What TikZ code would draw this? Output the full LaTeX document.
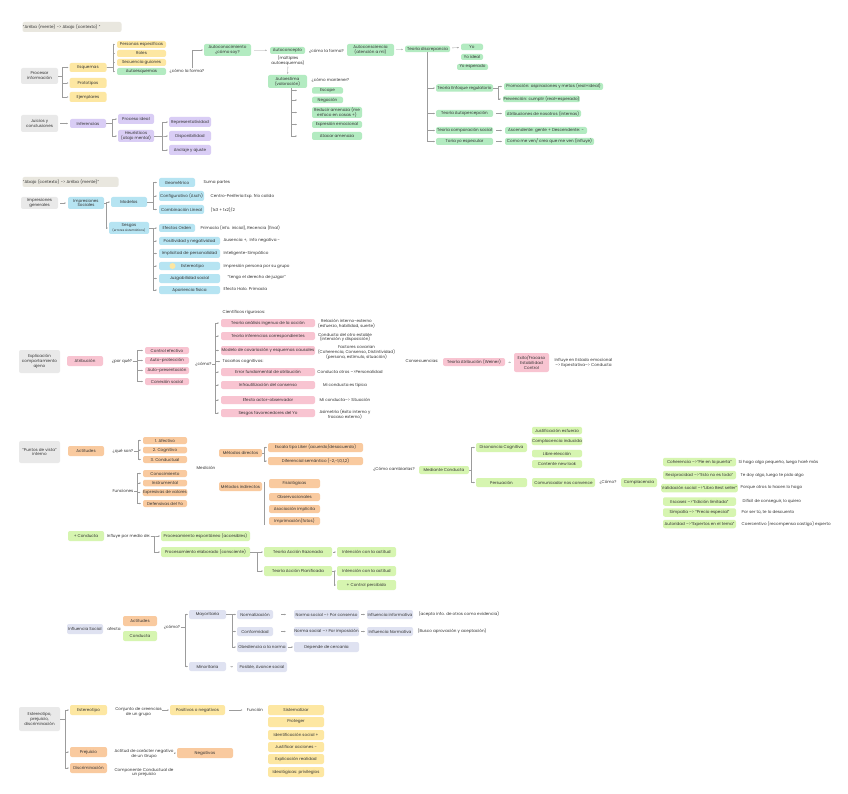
\documentclass[tikz,border=0pt]{standalone}
\usepackage{fontspec}
\setmainfont{Poppins}
\usetikzlibrary{arrows.meta, positioning}

\definecolor{txt}{HTML}{333333}
\definecolor{linec}{HTML}{9C9C9C}
\definecolor{grayc}{HTML}{E9E9E9}
\definecolor{hdrc}{HTML}{E9E7DF}
\definecolor{yelc}{HTML}{FDE7A2}
\definecolor{grnc}{HTML}{B3EBC1}
\definecolor{purc}{HTML}{D9CDF5}
\definecolor{bluc}{HTML}{B6E4F2}
\definecolor{pnkc}{HTML}{F8C4D1}
\definecolor{orac}{HTML}{F9CA9F}
\definecolor{limc}{HTML}{D6F5B0}
\definecolor{lavc}{HTML}{DFE2F1}
\newcommand{\fs}{\fontsize{4.1}{4.9}\selectfont}

\tikzset{
  nd/.style={rounded corners=2pt, inner sep=0.5pt, align=center, text=txt, font=\fs},
  wh/.style 2 args={minimum width=#1, minimum height=#2},
  gbox/.style={nd, fill=grayc},
  hdr/.style={nd, fill=hdrc, align=left},
  ybox/.style={nd, fill=yelc},
  gnbox/.style={nd, fill=grnc},
  pbox/.style={nd, fill=purc},
  bbox/.style={nd, fill=bluc},
  pkbox/.style={nd, fill=pnkc},
  obox/.style={nd, fill=orac},
  lbox/.style={nd, fill=limc},
  vbox/.style={nd, fill=lavc},
  lbl/.style={inner sep=0.5pt, align=center, text=txt, font=\fs},
  conn/.style={draw=linec, line width=0.35pt, -{Stealth[length=1.4pt, width=1.4pt]}, shorten >=1pt},
  rail/.style={draw=linec, line width=0.35pt},
  sarr/.style={conn, shorten <=#1, shorten >=#1},
  sarr/.default=3
}

\begin{document}
\begin{tikzpicture}[x=1pt, y=-1pt]
\fill[white] (0,0) rectangle (848,794);
\useasboundingbox (0,0) rectangle (848,794);

% Arriba -> Abajo
\node[hdr, text width=98, minimum height=10] (hdra) at (72,27) {“Arriba (mente) -> Abajo (contexto) ”};
\node[gbox, wh={37}{16}] (proc) at (39.5,76) {Procesar\\información};
\node[ybox, wh={37}{9}] (esq) at (88,67.5) {Esquemas};
\node[ybox, wh={37}{10}] (proto) at (88,83) {Prototipos};
\node[ybox, wh={37}{10}] (ejem) at (88,97) {Ejemplares};
\node[ybox, wh={49}{7}] (pers) at (141.5,44.5) {Personas específicas};
\node[ybox, wh={49}{7}] (roles) at (141.5,53.5) {Roles};
\node[ybox, wh={49}{7}] (secu) at (141.5,62.5) {Secuencia guiones};
\node[gnbox, wh={49}{7}] (autoesq) at (141.5,71.5) {Autoesquemas};
\node[lbl] (forma1) at (187,71) {¿cómo la forma?};
\node[gnbox, wh={47}{12}] (autocon) at (227.5,50) {Autoconocimiento\\¿cómo soy?};
\node[gnbox, wh={35}{7}] (autocpt) at (287.5,50.5) {Autoconcepto};
\node[lbl] (multi) at (288,61) {(múltiples\\autoesquemas)};
\node[gnbox, wh={39}{13}] (autoest) at (287.5,81.5) {Autoestima\\(valoración)};
\node[lbl] (forma2) at (326.5,51.5) {¿cómo la forma?};
\node[gnbox, wh={47}{12}] (autocsc) at (370.5,50) {Autoconsciencia\\(atención a mí)};
\node[gnbox, wh={45}{6.5}] (tdisc) at (427.5,49) {Teoría discrepancia};
\node[gnbox, wh={22}{6.5}] (yo) at (472,47) {Yo};
\node[gnbox, wh={22}{6}] (yoid) at (472,57) {Yo ideal};
\node[gnbox, wh={31}{6}] (yoesp) at (472.5,67) {Yo esperado};
\node[lbl, anchor=west] (mant) at (311,80) {¿cómo mantener?};
\node[gnbox, wh={31}{6.5}] (escape) at (327.5,90.5) {Escape};
\node[gnbox, wh={31}{6.5}] (negac) at (327.5,100) {Negación};
\node[gnbox, wh={50}{11}] (reduc) at (337,112.5) {Reducir amenaza (me\\enfoco en cosas +)};
\node[gnbox, wh={50}{7}] (expr) at (337,124.5) {Expresión emocional};
\node[gnbox, wh={50}{8}] (atac) at (337,136) {Atacar amenaza};
\node[gnbox, wh={57}{7.5}] (tenf) at (464.5,88) {Teoría Enfoque regulatorio};
\node[gnbox, wh={57}{7}] (tauto) at (464.5,113.5) {Teoría Autopercepción};
\node[gnbox, wh={57}{7}] (tcomp) at (464.5,130.5) {Teoría comparación social};
\node[gnbox, wh={57}{7}] (tyo) at (464.5,141.5) {Toria yo especular};
\node[gnbox, wh={99}{7}] (prom) at (553.5,86.5) {Promoción: aspiraciones y metas (real=ideal)};
\node[gnbox, wh={75}{6.5}] (prev) at (541.5,99) {Prevención: cumplir (real=esperado)};
\node[gnbox, wh={76}{7}] (atrib) at (543,113.5) {Atribuciones de nosotros (internas)};
\node[gnbox, wh={82}{7}] (asc) at (546,130.5) {Ascendente: gente + Descendente: -};
\node[gnbox, wh={89}{7}] (comove) at (549.5,141.5) {Como me ven/ creo que me ven (influye)};
\node[gbox, wh={37}{17}] (juic) at (39.5,123.5) {Juicios y\\conclusiones};
\node[pbox, wh={36}{9}] (infer) at (88,123.5) {Inferencias};
\node[pbox, wh={36}{10}] (pideal) at (136,119) {Proceso ideal};
\node[pbox, wh={36}{12}] (heur) at (136,136) {Heurísticos\\(atajo mental)};
\node[pbox, wh={42}{10}] (repr) at (190,122) {Representatividad};
\node[pbox, wh={42}{10}] (disp) at (190,136) {Disponibilidad};
\node[pbox, wh={42}{10}] (ancl) at (190,150) {Anclaje y ajuste};

\foreach \t in {esq,proto,ejem} \draw[conn] (proc.east) -- ++(4,0) |- (\t.west);
\foreach \t in {pers,roles,secu,autoesq} \draw[conn, shorten >=2pt] (esq.east) -- ++(6,0) |- (\t.west);
\draw[conn] ([xshift=5]forma1.north) |- (autocon.west);
\draw[sarr] (autocon) -- (autocpt);
\draw[conn] (multi) -- (autoest);
\draw[sarr=2] (autocsc) -- (tdisc);
\draw[sarr=2] (tdisc) -- (yo);
\foreach \t in {escape,negac,reduc,expr,atac} \draw[conn, shorten >=15pt] ([xshift=3.5]autoest.south) |- (\t.west);
\foreach \t in {tenf,tauto,tcomp,tyo} \draw[conn] (tdisc.south) |- (\t.west);
\foreach \t in {prom,prev} \draw[conn, shorten >=2pt] (tenf.east) -- ++(5,0) |- (\t.west);
\draw[sarr] (tauto) -- (atrib);
\draw[sarr] (tcomp) -- (asc);
\draw[sarr] (tyo) -- (comove);
\draw[sarr=2] (juic) -- (infer);
\foreach \t in {pideal,heur} \draw[conn] (infer.east) -- ++(6,0) |- (\t.west);
\foreach \t in {repr,disp,ancl} \draw[conn] (heur.east) -- ++(8,0) |- (\t.west);

% Abajo -> Arriba
\node[hdr, text width=95, minimum height=10] (hdrb) at (70.5,182) {“Abajo (contexto) -> Arriba (mente)”};
\node[gbox, wh={37}{12}] (impg) at (39.5,203) {Impresiones\\generales};
\node[bbox, wh={36}{12}] (imps) at (86,203) {Impresiones\\Sociales};
\node[bbox, wh={36}{10}] (model) at (129,202) {Modelos};
\node[bbox, wh={40}{12}] (sesg) at (129,228) {Sesgos\\{\fontsize{3}{3.6}\selectfont (errores sistemáticos)}};
\node[bbox, wh={36}{9}] (geo) at (177,182.5) {Geométrico};
\node[bbox, wh={45}{10}] (config) at (181.5,196) {Configurativo (Asch)};
\node[bbox, wh={45}{9}] (combi) at (181.5,209.5) {Combinación Lineal};
\node[lbl, anchor=west] (suma) at (203,183) {Suma partes};
\node[lbl, anchor=west] (centro) at (210,196) {Centro-Periferia Exp. frío calido};
\node[lbl, anchor=west] (formula) at (210,210) {(1x3 + 1x2)/2};
\node[bbox, wh={36}{8}] (eford) at (177,228) {Efectos Orden};
\node[bbox, wh={61}{8}] (posit) at (189.5,241) {Positividad y negatividad};
\node[bbox, wh={61}{9}] (impl) at (189.5,253.5) {Implicitad de personalidad};
\node[bbox, wh={61}{8}] (ester) at (189.5,266) {\hspace*{6pt}Estereotipo};
\node[bbox, wh={61}{9}] (juzg) at (189.5,278.5) {Juzgabilidad social};
\node[bbox, wh={61}{8}] (apar) at (189.5,290) {Apariencia física};
\fill[yelc] (172.5,266) circle (3);
\node[lbl, anchor=west] (prima) at (200,227.5) {Primacía (info. inicial), Recencia (final)};
\node[lbl, anchor=west] (ausen) at (223,240.5) {Ausencia +,\ \ Info negativa -};
\node[lbl, anchor=west] (intel) at (223,253.5) {Inteligente-Simpático};
\node[lbl, anchor=west] (impre) at (223,266) {Impresión persona por su grupo};
\node[lbl, anchor=west] (tengo) at (227,277.5) {“tengo el derecho de juzgar”};
\node[lbl, anchor=west] (halo) at (223,288.5) {Efecto Halo. Primacía};

\draw[sarr=2] (impg) -- (imps);
\foreach \t in {model,sesg} \draw[conn] (imps.east) -- ++(2,0) |- (\t.west);
\foreach \t in {geo,config,combi} \draw[conn, shorten >=2pt] (model.east) -- ++(6,0) |- (\t.west);
\foreach \t in {eford,posit,impl,ester,juzg,apar} \draw[conn, shorten >=2pt] (sesg.east) -- ++(4,0) |- (\t.west);

% Atribucion
\node[gbox, wh={41}{23}] (expl) at (39.5,361.5) {Explicación\\comportamiento\\ajeno};
\node[pkbox, wh={36}{10}] (atri) at (85,361) {Atribución};
\node[lbl] (porque) at (122,361) {¿por qué?};
\node[pkbox, wh={44}{7}] (cafe) at (167,350.5) {Control efectivo};
\node[pkbox, wh={44}{7}] (aprot) at (167,360.5) {Auto-protección};
\node[pkbox, wh={44}{7}] (apres) at (167,370.5) {Auto-presentación};
\node[pkbox, wh={44}{7}] (conex) at (167,381.5) {Conexión social};
\node[lbl] (como3) at (203.5,364) {¿cómo?};
\node[lbl, anchor=west] (cient) at (222,312.5) {Científicos rigurosos:};
\node[pkbox, wh={94}{8}] (tana) at (268,323) {Teoría análisis ingenuo de la acción};
\node[pkbox, wh={94}{8}] (tinf) at (268,336) {Teoría inferencias correspondientes};
\node[pkbox, wh={94}{9}] (mcov) at (268,350.5) {Modelo de covariación y esquemas causales};
\node[lbl, anchor=west] (tacan) at (222,361.5) {Tacaños cognitivos:};
\node[pkbox, wh={94}{8}] (efund) at (268,372) {Error fundamental de atribución};
\node[pkbox, wh={94}{8}] (infra) at (268,385) {Infrautilización del consenso};
\node[pkbox, wh={94}{8}] (eact) at (268,400) {Efecto actor-observador};
\node[pkbox, wh={94}{8}] (sfav) at (268,413) {Sesgos favorecedores del Yo};
\node[lbl] (relac) at (346.5,324) {Relación interno-externo\\(esfuerzo, habilidad, suerte)};
\node[lbl] (cestab) at (345,337.5) {Conducta del otro estable\\(intención y disposición)};
\node[lbl] (facto) at (356.5,352.5) {Factores covarian\\(Coherencia, Consenso, Distintividad)\\(persona, estímulo, situación)};
\node[lbl] (cotros) at (350,371.5) {Conducta otros -->Personalidad};
\node[lbl] (tipica) at (345,385) {Mi conducta es típica};
\node[lbl] (situa) at (345,399.5) {Mi conducta--> Situación};
\node[lbl] (asim) at (345,414.5) {Asimetría (éxito interno y\\fracaso externo)};
\node[lbl] (consec) at (422,361.3) {Consecuencias:};
\node[pkbox, wh={62}{8}] (weiner) at (474,362) {Teoría Atribución (Weiner)};
\node[pkbox, wh={35}{19}] (exito) at (531.5,362.5) {Exito/Fracaso\\Estabilidad\\Control};
\node[lbl] (estemo) at (583.5,363) {Influye en Estado emocional\\--> Expectativa--> Conducta};

\foreach \t in {cafe,aprot,apres,conex} \draw[conn, shorten >=2pt] (porque.east) -- ++(4,0) |- (\t.west);
\foreach \t in {tana,tinf,mcov,tacan,efund,infra,eact,sfav} \draw[conn, shorten >=2pt] (como3.east) -- ++(3,0) |- (\t.west);
\draw[sarr] (weiner) -- (exito);

% Actitudes
\node[gbox, wh={41}{22}] (ptos) at (39.5,452) {“Puntos de vista”\\interno};
\node[obox, wh={36}{10}] (actit) at (86,451) {Actitudes};
\node[lbl] (queson) at (123,451) {¿qué son?};
\node[obox, wh={44}{7}] (afec) at (165,440.5) {1. Afectivo};
\node[obox, wh={44}{6.5}] (cogn) at (165,450) {2. Cognitivo};
\node[obox, wh={44}{7}] (condu) at (165,459.5) {3. Conductual};
\node[lbl] (funci) at (123,490.7) {Funciones};
\node[obox, wh={44}{7}] (conoc) at (165,473.5) {Conocimiento};
\node[obox, wh={44}{6.5}] (instr) at (165,483) {Instrumental};
\node[obox, wh={44}{7}] (expv) at (165,492.5) {Expresivas de valores};
\node[obox, wh={44}{7}] (defy) at (165,503.5) {Defensivas del Yo};
\node[lbl] (medic) at (206,467.7) {Medición};
\node[obox, wh={43}{8}] (mdir) at (240.5,453) {Métodos directos};
\node[obox, wh={43}{9}] (mind) at (240.5,486.5) {Métodos indirectos};
\node[obox, wh={95}{9}] (likert) at (315.5,447.5) {Escala tipo Liker (acuerdo/desacuerdo)};
\node[obox, wh={95}{8}] (difer) at (315.5,461) {Diferencial semántico (-2,-1,0,1,2)};
\node[obox, wh={51}{9}] (fisio) at (294.5,483.5) {Fisiológicas};
\node[obox, wh={51}{8}] (obser) at (294.5,497) {Observacionales};
\node[obox, wh={51}{8}] (asoc) at (294.5,509) {Asociación implícita};
\node[obox, wh={51}{8}] (impr) at (294.5,521) {Imprimación(fotos)};
\node[lbl] (camb) at (394,469.3) {¿Cómo cambiarlas?};
\node[lbox, wh={50}{8}] (medc) at (444,470) {Mediante Conducta};
\node[lbox, wh={51}{9}] (dison) at (501.5,447.5) {Disonancia Cognitiva};
\node[lbox, wh={51}{9}] (persu) at (501.5,482.5) {Persuación};
\node[lbox, wh={50}{7.5}] (justi) at (557,430.5) {Justificación esfuerzo};
\node[lbox, wh={50}{8}] (compi) at (557,441) {Complacencia inducida};
\node[lbox, wh={50}{7.5}] (libre) at (557,453.5) {Libre elección};
\node[lbox, wh={50}{8}] (conte) at (557,464) {Contente new look};
\node[lbox, wh={63}{9}] (comun) at (563.5,482.5) {Comunicador nos convence};
\node[lbl] (como4) at (608,482.5) {¿Cómo?};
\node[lbox, wh={36}{9}] (compl) at (639,482.5) {Complacencia};
\node[lbox, wh={73}{8.5}] (coher) at (699.5,462) {Coherencia -->“Pie en la puerta”};
\node[lbox, wh={73}{8.5}] (recip) at (699.5,475) {Reciprocidad -->“Esto no es todo”};
\node[lbox, wh={73}{8.5}] (valid) at (699.5,488) {Validación social -->“Libro Best seller”};
\node[lbox, wh={73}{8.5}] (escas) at (699.5,501.5) {Escasez -->“Edición limitada”};
\node[lbox, wh={73}{8.5}] (simpa) at (699.5,512.5) {Simpatía --> “Precio especial”};
\node[lbox, wh={73}{8.5}] (autor) at (699.5,524) {Autoridad -->“Expertos en el tema”};
\node[lbl, anchor=west] (peque) at (738,462) {Si hago algo pequeño, luego haré más};
\node[lbl, anchor=west] (doy) at (740,475) {Te doy algo, luego te pido algo};
\node[lbl, anchor=west] (otros) at (740,488) {Porque otros lo hacen lo hago};
\node[lbl, anchor=west] (dific) at (742,501) {Difícil de conseguir, lo quiero};
\node[lbl, anchor=west] (porser) at (741,512.5) {Por ser tú, te lo descuento};
\node[lbl, anchor=west] (coerc) at (741,524) {Coercentivo (recompensa castigo) experto};

\foreach \t in {afec,cogn,condu} \draw[conn, shorten >=2pt] (queson.east) -- ++(4,0) |- (\t.west);
\foreach \t in {conoc,instr,expv,defy} \draw[conn, shorten >=2pt] (funci.east) -- ++(3,0) |- (\t.west);
\foreach \t in {likert,difer} \draw[conn] (mdir.east) -- ++(2,0) |- (\t.west);
\draw[rail] ([xshift=2]mind.north east) -- ([xshift=2]mind.north east |- impr.south);
\foreach \t in {dison,persu} \draw[conn] (medc.east) -- ++(2,0) |- (\t.west);

\node[lbox, wh={36}{10}] (pcond) at (86,536) {+ Conducta};
\node[lbl] (inflm) at (128.5,536) {Influye por medio de:};
\node[lbox, wh={89}{10}] (pesp) at (205.5,536) {Procesamiento espontáneo (accesibles)};
\node[lbox, wh={89}{10}] (pela) at (205.5,552) {Procesamiento elaborado (consciente)};
\node[lbox, wh={68}{10}] (tar) at (298,552) {Teoría Acción Razonada};
\node[lbox, wh={68}{10}] (tap) at (298,571) {Teoría Acción Planificada};
\node[lbox, wh={59}{10}] (int1) at (366.5,552) {Intención con la actitud};
\node[lbox, wh={59}{10}] (int2) at (366.5,571) {Intención con la actitud};
\node[lbox, wh={59}{10}] (ctrl) at (366.5,585) {+ Control percibido};

\foreach \t in {pesp,pela} \draw[conn] (inflm.east) -- ++(3,0) |- (\t.west);
\draw[conn] (pela.east) -- (tar.west);
\draw[conn] (pela.east) -- ++(7,0) |- (tap.west);
\draw[sarr=1] (tar) -- (int1);
\foreach \t in {int2,ctrl} \draw[conn] (tap.east) -- ++(1.5,0) |- (\t.west);

% Influencia social
\node[vbox, wh={36}{10}] (infs) at (85,629) {Influencia Social};
\node[lbl] (afecta) at (114,629) {afecta};
\node[obox, wh={34}{10}] (act2) at (140,621) {Actitudes};
\node[lbox, wh={34}{10}] (cond2) at (140,636) {Conducta};
\node[lbl] (como5) at (172,627) {¿cómo?};
\node[vbox, wh={37}{9}] (mayor) at (207.5,614.5) {Mayoritaria};
\node[vbox, wh={37}{9}] (minor) at (207.5,666.5) {Minoritaria};
\node[vbox, wh={36}{9}] (normz) at (255,614.5) {Normalización};
\node[vbox, wh={36}{9}] (confo) at (255,631.5) {Conformidad};
\node[vbox, wh={50}{10}] (obed) at (262,647) {Obediencia a la norma};
\node[vbox, wh={65}{9}] (nscon) at (326.5,614.5) {Norma social --> Por consenso};
\node[vbox, wh={65}{9}] (nsimp) at (326.5,631.5) {Norma social --> Por imposición};
\node[vbox, wh={65}{10}] (depc) at (326.5,647) {Depende de cercanía};
\node[vbox, wh={46}{9}] (infinf) at (390,614.5) {Influencia informativa};
\node[vbox, wh={46}{9}] (infnor) at (390,631.5) {Influencia Normativa};
\node[lbl, anchor=west] (acepto) at (418,614.3) {(acepto info. de otros como evidencia)};
\node[lbl, anchor=west] (busco) at (417,630.7) {(Busco aprovación y aceptación)};
\node[vbox, wh={50}{10}] (posav) at (262,667) {Posible, Avance social};

\foreach \t in {mayor,minor} \draw[conn] (como5.east) -- ++(4,0) |- (\t.west);
\foreach \t in {normz,confo,obed} \draw[conn] (mayor.east) -- ++(6,0) |- (\t.west);
\draw[sarr=8] (normz) -- (nscon);
\draw[sarr=8] (confo) -- (nsimp);
\draw[sarr=1] (obed) -- (depc);
\draw[sarr=2] (nscon) -- (infinf);
\draw[sarr=2] (nsimp) -- (infnor);
\draw[sarr=4] (minor) -- (posav);

% Estereotipo
\node[gbox, wh={41}{24}] (estp) at (39.5,719) {Estereotipo,\\prejuicio,\\discriminación};
\node[ybox, wh={37}{10}] (est) at (88.5,710) {Estereotipo};
\node[obox, wh={37}{10}] (prej) at (88.5,752) {Prejuicio};
\node[obox, wh={37}{10}] (discr) at (88.5,768) {Discriminación};
\node[lbl] (conj) at (138.5,712) {Conjunto de creencias\\de un grupo};
\node[ybox, wh={55}{10}] (posneg) at (197.5,710) {Positivos o negativos};
\node[lbl] (funcion) at (255,710) {Función};
\node[ybox, wh={56}{10}] (sist) at (296,710) {Sistematizar};
\node[ybox, wh={56}{10}] (prote) at (296,722) {Proteger};
\node[ybox, wh={56}{10}] (idsoc) at (296,735) {Identificación social +};
\node[ybox, wh={56}{10}] (justa) at (296,747) {Justificar acciones -};
\node[ybox, wh={56}{10}] (explr) at (296,759) {Explicación realidad};
\node[ybox, wh={56}{10}] (ideol) at (296,772) {Ideológicas: privilegios};
\node[lbl] (actn) at (144,754) {Actitud de carácter negativo\\de un Grupo};
\node[obox, wh={56}{10}] (negat) at (205,753) {Negativos};
\node[lbl] (compc) at (144,772.5) {Componente Conductual de\\un prejuicio};

\foreach \t in {est,prej,discr} \draw[conn] (estp.east) -- ++(5,0) |- (\t.west);
\draw[conn] (conj.east |- posneg.west) -- (posneg.west);
\draw[sarr=4] (posneg) -- (funcion);
\draw[conn] (actn.east |- negat.west) -- (negat.west);
\end{tikzpicture}
\end{document}
